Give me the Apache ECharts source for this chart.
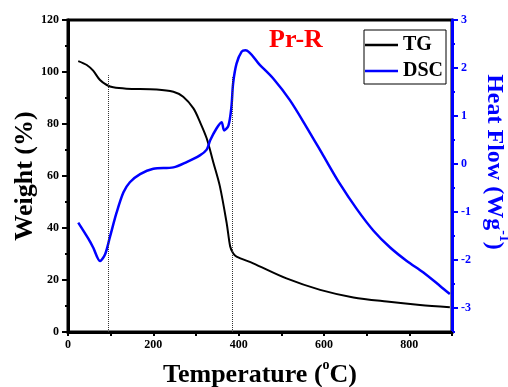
<!DOCTYPE html>
<html><head><meta charset="utf-8">
<script src="https://cdn.jsdelivr.net/npm/echarts@6/dist/echarts.min.js"></script>
<style>html,body{margin:0;padding:0;background:#fff}#c{width:508px;height:387px}</style>
</head><body><div id="c"></div>
<script>
const tgTemps   = [24, 44, 59, 75, 91, 106, 137, 208, 247, 270, 294, 309, 325, 341, 356, 372, 380, 387, 395, 434, 512, 591, 669, 747, 825, 895];
const tgWeights = [104.2, 102.7, 100.5, 96.9, 95, 94.1, 93.6, 93.3, 92.4, 90.5, 86, 80.9, 74.5, 65, 56, 41.8, 33, 30.3, 29, 26.4, 20.6, 16.2, 13.3, 11.7, 10.4, 9.5];
const dscTemps  = [24, 48, 59, 75, 87, 98, 114, 130, 145, 169, 200, 247, 278, 309, 325, 333, 348, 360, 366, 376, 383, 387, 395, 407, 416, 450, 481, 520, 559, 598, 637, 677, 716, 755, 794, 833, 872, 895];
const dscHeat   = [-1.22, -1.56, -1.74, -2.02, -1.88, -1.53, -1.01, -0.59, -0.38, -0.21, -0.1, -0.07, 0.04, 0.18, 0.3, 0.49, 0.74, 0.87, 0.7, 0.8, 1.19, 1.68, 2.09, 2.34, 2.37, 2.06, 1.78, 1.33, 0.77, 0.18, -0.41, -0.94, -1.39, -1.74, -2.02, -2.26, -2.54, -2.71];
const xTickLabels = [0, 200, 400, 600, 800];
const heatTicks = [-3, -2, -1, 0, 1, 2, 3];
const guideTemps = [94, 385];
const guideTops = [98.8, 98];

const serif = "'Liberation Serif','Times New Roman',serif";
const chart = echarts.init(document.getElementById('c'));
chart.setOption({
  animation: false,
  backgroundColor: '#fff',
  title: {text: 'Pr-R', left: 264, top: 22, textStyle: {color: '#ff0000', fontSize: 26, fontWeight: 'bold', fontFamily: serif}},
  legend: {
    orient: 'vertical', left: 364, top: 30, data: ['TG', 'DSC'],
    icon: 'rect', itemWidth: 33, itemHeight: 2.5,
    borderColor: '#000', borderWidth: 1, padding: [5, 3, 3, 1], itemGap: 6,
    textStyle: {fontSize: 20, fontWeight: 'bold', fontFamily: serif, color: '#000'}
  },
  grid: {left: 68, top: 20, right: 56, bottom: 55, show: true, borderColor: '#000', borderWidth: 3,
    containLabel: false, outerBoundsMode: 'none'},
  xAxis: {
    type: 'value', min: 0, max: 900, interval: 100,
    name: 'Temperature ({sup|o}C)', nameLocation: 'middle', nameGap: 26, nameMoveOverlap: false,
    nameTextStyle: {fontSize: 26, lineHeight: 34, fontWeight: 'bold', fontFamily: serif, color: '#000',
      rich: {sup: {fontSize: 14, fontWeight: 'bold', fontFamily: serif, color: '#000', verticalAlign: 'top'}}},
    axisLine: {lineStyle: {color: '#000', width: 3}},
    axisTick: {length: 4, lineStyle: {color: '#000', width: 2}},
    axisLabel: {customValues: xTickLabels, fontSize: 12, fontWeight: 'bold', fontFamily: serif, color: '#000', margin: 7},
    splitLine: {show: false}
  },
  yAxis: [{
    type: 'value', min: 0, max: 120, interval: 20, position: 'left',
    name: 'Weight (%)', nameLocation: 'middle', nameGap: 30, nameRotate: 90, nameMoveOverlap: false,
    nameTextStyle: {fontSize: 26, fontWeight: 'bold', fontFamily: serif, color: '#000'},
    axisLine: {lineStyle: {color: '#000', width: 3}},
    axisTick: {length: 6, lineStyle: {color: '#000', width: 2}},
    minorTick: {show: true, splitNumber: 2, length: 3, lineStyle: {color: '#000', width: 2}},
    axisLabel: {fontSize: 12, fontWeight: 'bold', fontFamily: serif, color: '#000', margin: 9},
    splitLine: {show: false}
  }, {
    type: 'value', min: -3.5, max: 3, interval: 0.5, position: 'right',
    name: 'Heat Flow (Wg{sup|-1})', nameLocation: 'middle', nameGap: 25, nameRotate: -90, nameMoveOverlap: false,
    nameTextStyle: {fontSize: 24, lineHeight: 34, fontWeight: 'bold', fontFamily: serif, color: '#0000ff', padding: [0, 28, 0, 0],
      rich: {sup: {fontSize: 14, fontWeight: 'bold', fontFamily: serif, color: '#0000ff', verticalAlign: 'top'}}},
    axisLine: {lineStyle: {color: '#0000ff', width: 3}},
    axisTick: {customValues: heatTicks, length: 6, lineStyle: {color: '#0000ff', width: 2}},
    axisLabel: {customValues: heatTicks, fontSize: 12, fontWeight: 'bold', fontFamily: serif, color: '#0000ff', margin: 9},
    splitLine: {show: false}
  }, {
    type: 'value', min: -3.5, max: 3, interval: 0.5, position: 'right',
    axisLine: {show: false},
    axisTick: {length: 3, lineStyle: {color: '#0000ff', width: 2}},
    axisLabel: {show: false},
    splitLine: {show: false}
  }],
  series: [{
    name: 'TG', type: 'line', yAxisIndex: 0, symbol: 'none', smooth: 0.3,
    lineStyle: {color: '#000', width: 2}, itemStyle: {color: '#000'},
    data: tgTemps.map((t, i) => [t, tgWeights[i]]),
    markLine: {
      silent: true, symbol: 'none', label: {show: false},
      lineStyle: {color: '#333', width: 1, type: 'dotted'},
      data: guideTemps.map((t, i) => [{coord: [t, 0]}, {coord: [t, guideTops[i]]}])
    }
  }, {
    name: 'DSC', type: 'line', yAxisIndex: 1, symbol: 'none', smooth: 0.3,
    lineStyle: {color: '#0000ff', width: 2.5}, itemStyle: {color: '#0000ff'},
    data: dscTemps.map((t, i) => [t, dscHeat[i]])
  }]
});
</script></body></html>
